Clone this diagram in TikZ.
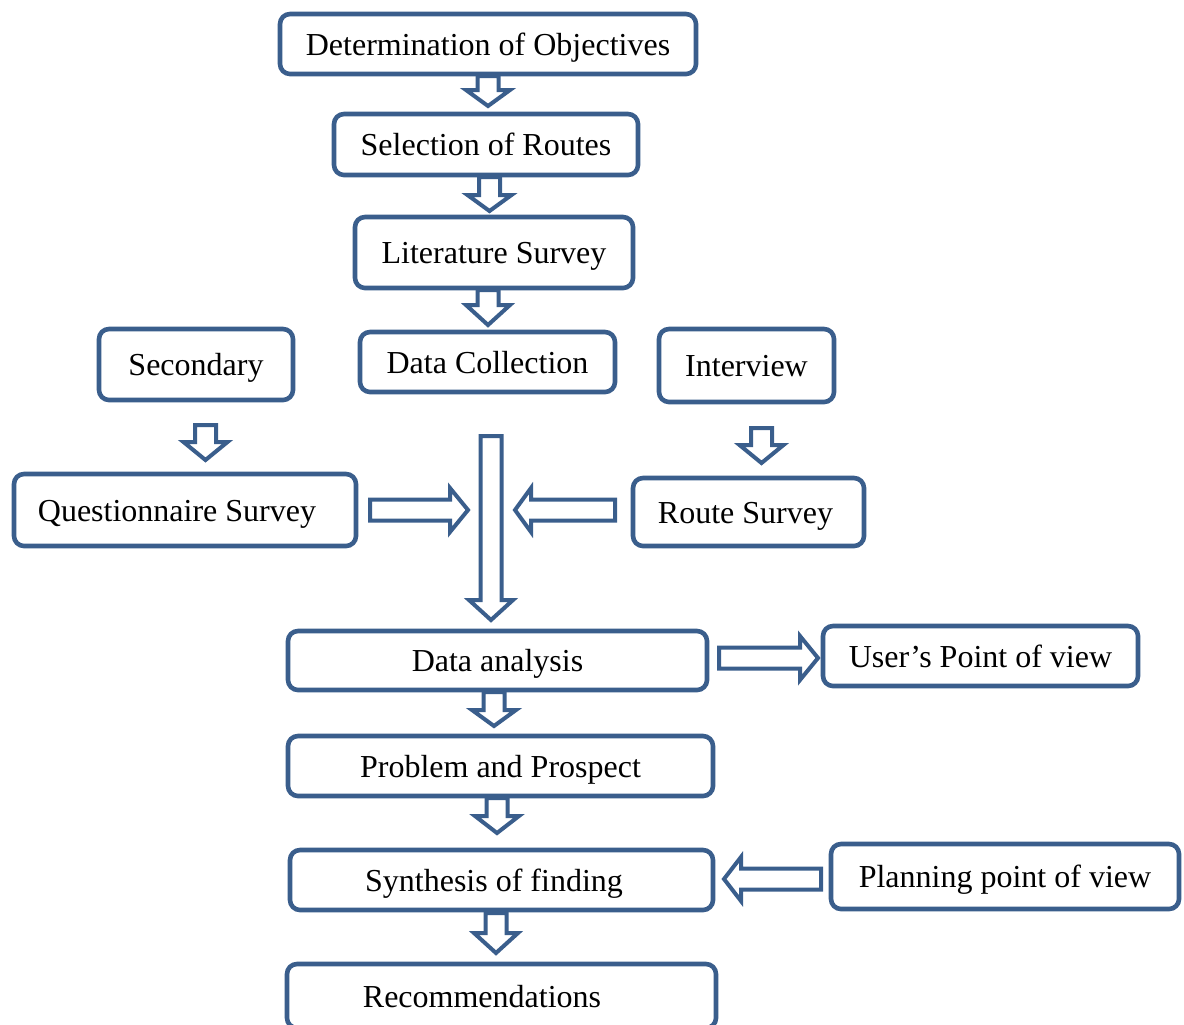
\documentclass[tikz,border=0pt]{standalone}
\usepackage{fontspec}
\setmainfont{Liberation Serif}
\definecolor{bc}{HTML}{3A5E8C}
\begin{document}
\begin{tikzpicture}[x=0.5pt,y=-0.5pt,
  box/.style={draw=bc, line width=2.3pt, rounded corners=5pt, fill=white, inner sep=0pt,
    text height=11pt, text depth=0pt,
    font=\fontsize{16}{19}\selectfont, text=black},
  arrowline/.style={draw=bc, line width=2pt, fill=white, line join=miter},
  pics/barrow/.style 2 args={code={
    \draw[arrowline] (0,-10.5) -- (#1-#2,-10.5) -- (#1-#2,-22) -- (#1,0)
      -- (#1-#2,22) -- (#1-#2,10.5) -- (0,10.5) -- cycle;}}]
\useasboundingbox (0,0) rectangle (1184,1024);

% boxes
\node[box, minimum width=208pt, minimum height=30pt] (obj) at (488,44) {Determination of Objectives};
\node[box, minimum width=152pt, minimum height=30.5pt] (sel) at (486,144.5) {Selection of Routes};
\node[box, minimum width=139pt, minimum height=35.5pt] (lit) at (494,252.5) {Literature Survey};
\node[box, minimum width=127.5pt, minimum height=30pt] (dc) at (487.5,362) {Data Collection};
\node[box, minimum width=97pt, minimum height=35.5pt] (sec) at (196,364.5) {Secondary};
\node[box, minimum width=87.5pt, minimum height=36.5pt] (int) at (746.5,365.5) {Interview};
\node[box, minimum width=171pt, minimum height=36pt] (qs) at (185,510) {Questionnaire Survey\kern8pt};
\node[box, minimum width=115.5pt, minimum height=34pt] (rs) at (748.5,512) {Route Survey\kern3pt};
\node[box, minimum width=209.5pt, minimum height=29.5pt] (da) at (497.5,660.5) {Data analysis};
\node[box, minimum width=157.5pt, minimum height=30pt] (up) at (980.5,656) {User’s Point of view};
\node[box, minimum width=212.5pt, minimum height=30pt] (pp) at (500.5,766) {Problem and Prospect};
\node[box, minimum width=211.5pt, minimum height=30pt] (sf) at (501.5,880) {Synthesis of finding\kern7.5pt};
\node[box, minimum width=174pt, minimum height=32.5pt] (pv) at (1005,876.5) {Planning point of view};
\node[box, minimum width=214.5pt, minimum height=32pt] (rec) at (501.5,996) {Recommendations\kern19.5pt};

% block arrows
\pic[rotate=-90] (a1) at (488,76) {barrow={30}{16}};
\pic[rotate=-90] (a2) at (489.5,177) {barrow={34}{16}};
\pic[rotate=-90] (a3) at (488,290) {barrow={35}{20}};
\pic[rotate=-90] (a4) at (205.5,425) {barrow={35}{18}};
\pic[rotate=-90] (a5) at (761.5,428) {barrow={35}{18}};
\pic[rotate=-90] (a6) at (491,436) {barrow={184}{20}};
\pic (a7) at (370,510) {barrow={98}{18}};
\pic[rotate=180] (a8) at (615,510) {barrow={100}{16}};
\pic[rotate=-90] (a9) at (494,692) {barrow={34}{16}};
\pic (a10) at (719,658) {barrow={99}{18}};
\pic[rotate=-90] (a11) at (497,798) {barrow={35}{17}};
\pic[rotate=180] (a12) at (821,879) {barrow={97}{17}};
\pic[rotate=-90] (a13) at (496,913) {barrow={40}{20}};
\end{tikzpicture}
\end{document}
